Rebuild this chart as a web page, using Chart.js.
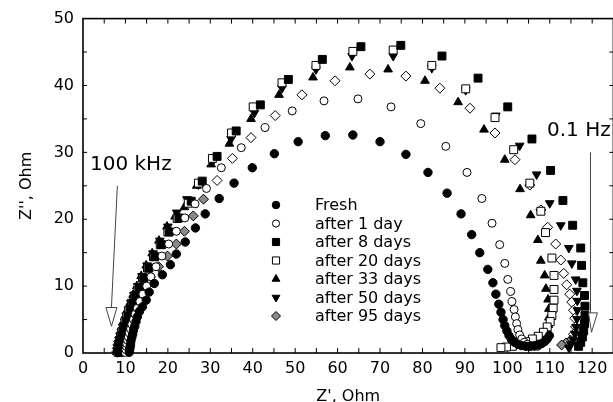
<!DOCTYPE html>
<html>
<head>
<meta charset="utf-8">
<script src="https://cdn.jsdelivr.net/npm/chart.js@4.4.1/dist/chart.umd.min.js"></script>
<style>
  html, body { margin: 0; padding: 0; background: #fff; overflow: hidden; }
  #wrap { width: 620px; height: 402px; }
</style>
</head>
<body>
<div id="wrap"><canvas id="myChart" width="620" height="402"></canvas></div>
<script>
// Impedance spectra, pairs of [Z', Z''] in Ohm
var fresh = [[10.9,0.1],[11.0,0.5],[11.1,0.9],[11.2,1.3],[11.3,1.8],[11.5,2.3],[11.7,2.8],[11.9,3.4],[12.2,4.0],[12.5,4.7],[12.8,5.4],[13.3,6.2],[14.0,6.9],[14.9,7.9],[15.6,9.1],[16.8,10.4],[18.7,11.7],[20.6,13.2],[22.0,14.8],[24.1,16.6],[26.5,18.7],[28.8,20.8],[32.1,23.1],[35.6,25.4],[39.9,27.7],[45.1,29.8],[50.7,31.6],[57.1,32.5],[63.6,32.6],[70.0,31.6],[76.1,29.7],[81.3,27.0],[85.8,23.9],[89.1,20.8],[91.6,17.7],[93.5,15.0],[95.4,12.5],[96.6,10.5],[97.3,8.8],[98.0,7.3],[98.5,6.1],[99.0,5.0],[99.4,4.1],[99.9,3.3],[100.4,2.6],[101.0,2.0],[101.7,1.6],[102.5,1.3],[103.4,1.1],[104.4,1.0],[105.4,1.0],[106.4,1.1],[107.3,1.2],[108.1,1.4],[108.8,1.7],[109.4,2.1],[109.9,2.6]];

var day1 = [[10.0,0.1],[10.1,0.5],[10.2,1.0],[10.3,1.4],[10.5,1.9],[10.7,2.4],[10.9,3.0],[11.2,3.6],[11.5,4.3],[11.9,5.0],[12.3,5.8],[12.8,6.7],[13.4,7.7],[14.1,8.8],[15.0,10.0],[16.0,11.4],[17.2,12.9],[18.6,14.5],[20.2,16.3],[22.0,18.2],[24.0,20.2],[26.4,22.3],[29.1,24.6],[32.6,27.7],[37.3,30.7],[42.9,33.7],[49.3,36.2],[56.8,37.7],[64.8,38.0],[72.6,36.8],[79.6,34.3],[85.5,30.9],[90.5,27.0],[94.0,23.1],[96.4,19.4],[98.2,16.2],[99.4,13.4],[100.1,11.0],[100.8,9.2],[101.1,7.7],[101.6,6.5],[101.9,5.4],[102.2,4.4],[102.5,3.5],[102.9,2.7],[103.4,2.1],[104.0,1.6],[104.7,1.3],[105.5,1.1],[106.3,1.0],[107.1,1.0]];

var day8 = [[8.6,0.1],[8.7,0.5],[8.8,1.0],[8.9,1.5],[9.1,2.0],[9.3,2.6],[9.5,3.2],[9.8,3.9],[10.2,4.7],[10.6,5.5],[11.1,6.4],[11.7,7.4],[12.4,8.5],[13.3,9.8],[14.3,11.2],[15.5,12.7],[16.9,14.4],[18.5,16.2],[20.3,18.1],[22.6,20.2],[25.5,22.7],[28.1,25.7],[31.6,29.4],[36.1,33.2],[41.8,37.1],[48.4,40.9],[56.4,43.9],[65.5,45.8],[74.9,46.0],[84.6,44.4],[93.1,41.1],[100.1,36.8],[105.8,32.0],[110.2,27.3],[113.1,22.8],[115.4,19.1],[117.3,15.7],[117.5,13.1],[117.8,10.5],[118.2,8.6],[118.3,7.0],[118.3,5.6],[118.2,4.4],[118.0,3.3],[117.7,2.4],[117.3,1.6],[116.8,1.0]];

var day20 = [[8.3,0.1],[8.4,0.5],[8.5,1.0],[8.6,1.5],[8.8,2.0],[9.0,2.6],[9.2,3.2],[9.5,3.9],[9.9,4.7],[10.3,5.5],[10.8,6.4],[11.4,7.4],[12.1,8.5],[13.0,9.8],[14.0,11.2],[15.2,12.7],[16.6,14.4],[18.2,16.2],[20.0,18.1],[22.2,20.1],[24.8,22.4],[27.2,25.4],[30.5,29.1],[35.0,32.9],[40.1,36.8],[46.9,40.4],[54.9,43.0],[63.6,45.1],[73.1,45.3],[82.2,43.0],[90.2,39.5],[97.1,35.2],[101.5,30.4],[105.3,25.4],[107.9,21.2],[109.0,18.0],[110.5,14.2],[111.0,11.6],[111.0,9.5],[111.0,7.9],[110.8,6.7],[110.5,5.6],[110.1,4.7],[109.4,3.9],[108.5,3.1],[107.3,2.5],[105.9,2.1],[104.3,1.7],[102.7,1.3],[101.2,1.0],[99.8,0.9],[98.5,0.8]];

var day33 = [[8.0,0.1],[8.1,0.5],[8.2,1.0],[8.3,1.5],[8.5,2.0],[8.7,2.6],[8.9,3.2],[9.2,3.9],[9.6,4.7],[10.0,5.6],[10.5,6.5],[11.1,7.5],[11.8,8.7],[12.7,10.0],[13.7,11.5],[14.9,13.1],[16.3,14.9],[17.9,16.8],[19.8,18.9],[21.7,20.4],[23.9,21.8],[26.8,25.0],[30.2,28.2],[34.5,31.3],[39.6,35.0],[46.2,38.6],[54.2,41.2],[62.9,42.7],[71.9,42.4],[80.6,40.7],[88.4,37.5],[94.5,33.4],[99.4,28.9],[103.0,24.5],[105.5,20.6],[107.2,16.9],[107.9,13.8],[108.8,11.6],[109.1,9.6],[109.6,8.0],[109.8,6.6],[109.8,5.3],[109.7,4.2],[109.5,3.3],[109.1,2.6],[108.5,2.0],[107.7,1.6],[106.8,1.3],[105.8,1.1],[104.8,1.0],[103.8,1.0]];

var day50 = [[8.2,0.1],[8.3,0.5],[8.4,1.0],[8.5,1.5],[8.7,2.0],[8.9,2.6],[9.1,3.2],[9.4,3.9],[9.8,4.7],[10.2,5.6],[10.7,6.5],[11.3,7.5],[12.0,8.7],[12.9,10.0],[13.9,11.5],[15.1,13.1],[16.5,14.9],[18.1,16.8],[20.0,18.9],[22.1,21.0],[24.5,23.0],[27.2,25.2],[30.7,28.8],[34.9,32.0],[40.4,35.9],[46.9,39.6],[54.9,42.4],[63.4,44.4],[73.1,44.4],[82.2,42.6],[90.2,39.3],[97.3,35.5],[102.9,31.0],[106.9,26.7],[110.0,22.4],[112.6,19.1],[114.5,15.7],[115.2,13.4],[116.1,11.0],[116.4,9.3],[116.5,7.8],[116.5,6.4],[116.4,5.1],[116.2,3.9],[115.9,2.9],[115.5,2.0],[115.0,1.3],[114.5,0.8]];

var day95 = [[8.0,0.2],[8.1,0.7],[8.2,1.2],[8.4,1.7],[8.6,2.3],[8.9,2.9],[9.2,3.5],[9.6,4.2],[10.1,5.0],[10.7,5.9],[11.4,6.9],[12.2,8.0],[13.2,9.2],[14.4,10.3],[15.9,11.4],[17.8,12.9],[19.9,14.5],[22.0,16.3],[23.9,18.2],[26.0,20.5],[28.4,23.0],[31.6,25.8],[35.2,29.1],[39.6,32.2],[45.3,35.5],[51.6,38.6],[59.4,40.7],[67.6,41.7],[76.1,41.4],[84.1,39.6],[91.2,36.6],[97.1,32.9],[101.8,28.9],[105.3,25.1],[107.9,21.4],[109.5,18.8],[111.4,16.3],[112.6,13.9],[113.3,11.9],[114.0,10.2],[114.7,8.8],[115.2,7.6],[115.6,6.4],[115.9,5.2],[116.1,3.9],[115.6,2.8],[114.9,1.9],[113.8,1.5],[112.8,1.2]];

var seriesNames = ['Fresh', 'after 1 day', 'after 8 days', 'after 20 days', 'after 33 days', 'after 50 days', 'after 95 days'];
var xTicks = [0, 10, 20, 30, 40, 50, 60, 70, 80, 90, 100, 110, 120];
var yTicks = [0, 10, 20, 30, 40, 50];

var fontName = "'DejaVu Sans', sans-serif";
var grey = '#8a8a8a';

function toPoints(arr) {
    return arr.map(function(p) { return { x: p[0], y: p[1] }; });
}

// grey fill shows on the high-frequency side and the tail of the 95 day set
function diamondFill(c) {
    var p = c.raw;
    if (p && (p.x < 30 || p.y < 2.5)) return grey;
    return '#ffffff';
}

function makeSet(i, arr, style, fill, radius, rotation) {
    return {
        label: seriesNames[i],
        data: toPoints(arr),
        pointStyle: style,
        pointRadius: radius,
        pointRotation: rotation || 0,
        pointBackgroundColor: fill,
        pointBorderColor: '#000',
        pointBorderWidth: 1,
        showLine: false,
        clip: false
    };
}

var datasets = [
    makeSet(0, fresh, 'circle', '#000', 4.2),
    makeSet(1, day1, 'circle', '#fff', 4),
    makeSet(2, day8, 'rect', '#000', 5.6),
    makeSet(3, day20, 'rect', '#fff', 5.6),
    makeSet(4, day33, 'triangle', '#000', 5),
    makeSet(5, day50, 'triangle', '#000', 5, 180),
    makeSet(6, day95, 'rectRot', diamondFill, 5)
];

function line(ctx, x1, y1, x2, y2) {
    ctx.beginPath();
    ctx.moveTo(x1, y1);
    ctx.lineTo(x2, y2);
    ctx.stroke();
}

// frame with inward ticks
var framePlugin = {
    id: 'frame',
    beforeDatasetsDraw: function(chart) {
        var ctx = chart.ctx, a = chart.chartArea;
        var xs = chart.scales.x, ys = chart.scales.y;
        ctx.save();
        ctx.strokeStyle = '#000';
        ctx.lineWidth = 1.6;
        ctx.strokeRect(a.left, a.top, a.right - a.left, a.bottom - a.top);
        ctx.lineWidth = 1;
        for (var v = 5; v < 125; v += 5) {
            var px = xs.getPixelForValue(v);
            line(ctx, px, a.bottom, px, a.bottom - 5);
            line(ctx, px, a.top, px, a.top + 5);
        }
        for (v = 5; v < 50; v += 5) {
            var py = ys.getPixelForValue(v);
            line(ctx, a.left, py, a.left + 4, py);
            line(ctx, a.right, py, a.right - 4, py);
        }
        ctx.restore();
    },
    afterDatasetsDraw: function(chart) {
        var ctx = chart.ctx;
        var xs = chart.scales.x, ys = chart.scales.y;
        ctx.save();

        // frequency labels and arrows
        ctx.fillStyle = '#000';
        ctx.font = '20px ' + fontName;
        ctx.textBaseline = 'alphabetic';
        ctx.textAlign = 'left';
        ctx.fillText('100 kHz', 90, 170);
        ctx.fillText('0.1 Hz', 547, 136);

        ctx.strokeStyle = '#444';
        ctx.lineWidth = 1;
        var x1 = xs.getPixelForValue(8.1), y1 = ys.getPixelForValue(25.0);
        var x2 = xs.getPixelForValue(6.7), y2 = ys.getPixelForValue(6.8);
        line(ctx, x1, y1, x2, y2);
        var tip = ys.getPixelForValue(4.0);
        ctx.fillStyle = '#fff';
        ctx.beginPath();
        ctx.moveTo(x2 - 5.5, y2);
        ctx.lineTo(x2 + 5.5, y2);
        ctx.lineTo(x2, tip);
        ctx.closePath();
        ctx.fill();
        ctx.stroke();

        var ax = xs.getPixelForValue(119.6);
        var top = ys.getPixelForValue(30.0), base = ys.getPixelForValue(6.0);
        line(ctx, ax, top, ax, base);
        ctx.beginPath();
        ctx.moveTo(ax - 2, base);
        ctx.lineTo(ax + 7, base);
        ctx.lineTo(ax + 1, ys.getPixelForValue(3.1));
        ctx.closePath();
        ctx.fill();
        ctx.stroke();

        // legend inside the plot
        ctx.font = '16px ' + fontName;
        ctx.textBaseline = 'middle';
        chart.data.datasets.forEach(function(ds, i) {
            var y = 205 + i * 18.5;
            var fill = typeof ds.pointBackgroundColor === 'function' ? grey : ds.pointBackgroundColor;
            ctx.fillStyle = fill;
            ctx.strokeStyle = '#000';
            ctx.lineWidth = 1;
            Chart.helpers.drawPoint(ctx, {
                pointStyle: ds.pointStyle,
                radius: ds.pointRadius * 0.9,
                rotation: ds.pointRotation,
                borderWidth: 1
            }, 276, y);
            ctx.fillStyle = '#000';
            ctx.fillText(ds.label, 315, y + 1);
        });
        ctx.restore();
    }
};

var ctx = document.getElementById('myChart').getContext('2d');
var myChart = new Chart(ctx, {
    type: 'scatter',
    data: { datasets: datasets },
    options: {
        responsive: false,
        animation: false,
        events: [],
        layout: { padding: { left: 0, right: 6, top: 16, bottom: 0 } },
        plugins: {
            legend: { display: false },
            tooltip: { enabled: false }
        },
        scales: {
            x: {
                type: 'linear',
                min: 0,
                max: 125,
                afterBuildTicks: function(scale) {
                    scale.ticks = xTicks.map(function(v) { return { value: v }; });
                },
                afterFit: function(scale) { scale.height = 49; },
                grid: { display: false, drawTicks: false },
                border: { display: false },
                ticks: { color: '#000', padding: 6, maxRotation: 0, autoSkip: false, font: { family: fontName, size: 16 } },
                title: { display: true, text: "Z', Ohm", color: '#000', padding: { top: 0, bottom: -4 }, font: { family: fontName, size: 16 } }
            },
            y: {
                type: 'linear',
                min: 0,
                max: 50,
                afterBuildTicks: function(scale) {
                    scale.ticks = yTicks.map(function(v) { return { value: v }; });
                },
                afterFit: function(scale) { scale.width = 83; },
                grid: { display: false, drawTicks: false },
                border: { display: false },
                ticks: { color: '#000', padding: 9, font: { family: fontName, size: 16 } },
                title: { display: true, text: "Z'', Ohm", color: '#000', padding: { top: 17, bottom: 0 }, font: { family: fontName, size: 16 } }
            }
        }
    },
    plugins: [framePlugin]
});
</script>
</body>
</html>
